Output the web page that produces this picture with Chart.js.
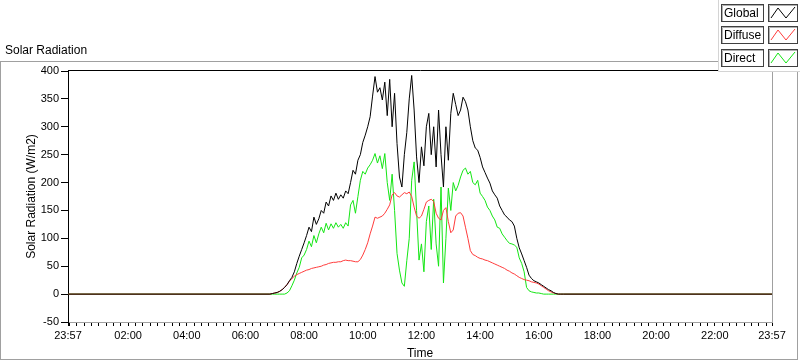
<!DOCTYPE html>
<html>
<head>
<meta charset="utf-8">
<script src="https://cdn.jsdelivr.net/npm/chart.js@4.4.1/dist/chart.umd.min.js"></script>
<style>
html, body { margin: 0; padding: 0; background: #fff; }
canvas { display: block; }
</style>
</head>
<body>
<canvas id="graficoSolar" width="800" height="361"></canvas>
<script>
// sample times (first and last 23:57 = start/end of the record)
const times = [
    '23:57',
    '06:50','06:55','07:00','07:05','07:10','07:15','07:20','07:25','07:30','07:35',
    '07:40','07:45','07:50','07:55','08:00','08:05','08:10','08:15','08:20','08:25',
    '08:30','08:35','08:40','08:45','08:50','08:55','09:00','09:05','09:10','09:15',
    '09:20','09:25','09:30','09:35','09:40','09:45','09:50','09:55','10:00','10:05',
    '10:10','10:15','10:20','10:25','10:30','10:35','10:40','10:45','10:50','10:55',
    '11:00','11:05','11:10','11:15','11:20','11:25','11:30','11:35','11:40','11:45',
    '11:50','11:55','12:00','12:05','12:10','12:15','12:20','12:25','12:30','12:35',
    '12:40','12:45','12:50','12:55','13:00','13:05','13:10','13:15','13:20','13:25',
    '13:30','13:35','13:40','13:45','13:50','13:55','14:00','14:05','14:10','14:15',
    '14:20','14:25','14:30','14:35','14:40','14:45','14:50','14:55','15:00','15:05',
    '15:10','15:15','15:20','15:25','15:30','15:35','15:40','15:45','15:50','15:55',
    '16:00','16:05','16:10','16:15','16:20','16:25','16:30','16:35','16:40','16:45',
    '16:50',
    '23:57'
];

const globalRad = [
    0,
    0, 1, 2, 3, 5, 8, 12, 17, 24, 30,
    40, 55, 68, 80, 92, 105, 120, 112, 138, 125,
    135, 150, 145, 165, 158, 176, 168, 181, 170, 178,
    172, 185, 180, 200, 222, 215, 240, 250, 272, 285,
    300, 318, 355, 390, 362, 370, 348, 380, 320, 385,
    300, 360, 270, 210, 192, 250, 290, 350, 392, 330,
    246, 200, 264, 230, 300, 324, 250, 300, 228, 330,
    250, 192, 300, 240, 324, 360, 340, 320, 330, 353,
    345, 330, 300, 275, 262, 258, 245, 228, 218, 208,
    199, 185, 178, 172, 158, 150, 142, 138, 133, 130,
    122, 100, 83, 72, 60, 48, 34, 28, 24, 22,
    20, 17, 14, 11, 8, 6, 3, 1, 0, 0,
    0,
    0
];

const diffuseRad = [
    0,
    0, 1, 2, 3, 5, 8, 12, 17, 23, 28,
    32, 35, 37, 39, 41, 43, 44, 46, 47, 48,
    49, 50, 52, 53, 55, 56, 57, 57, 58, 58,
    60, 61, 60, 60, 59, 58, 58, 62, 70, 80,
    92, 108, 122, 138, 136, 138, 140, 145, 152, 160,
    178, 182, 176, 174, 178, 182, 180, 183, 175, 156,
    140, 136, 140, 152, 165, 168, 170, 166, 145, 136,
    133, 150, 155, 130, 110, 115, 140, 145, 146, 140,
    120, 100, 78, 71, 69, 66, 64, 63, 61, 60,
    58, 56, 54, 52, 50, 48, 46, 43, 41, 38,
    36, 33, 30, 28, 26, 25, 24, 22, 21, 20,
    18, 15, 12, 9, 6, 4, 2, 1, 0, 0,
    0,
    0
];

const directRad = [
    0,
    0, 0, 0, 0, 0, 0, 0, 2, 6, 15,
    25, 38, 48, 65, 70, 80, 95, 85, 105, 92,
    108, 120, 110, 127, 115, 126, 118, 128, 120, 125,
    118, 128, 122, 160, 168, 145, 175, 204, 220, 215,
    226, 232, 240, 252, 235, 248, 225, 252, 200, 168,
    215, 150, 73, 43, 20, 14, 60, 100, 204, 237,
    150, 61, 90, 40, 130, 158, 80, 170, 90, 50,
    192, 20, 100, 190, 150, 200, 185, 195, 210, 222,
    226, 215, 220, 200, 196, 204, 181, 175, 168, 156,
    150, 140, 133, 120, 118, 108, 102, 96, 91, 90,
    88, 84, 65, 55, 40, 12, 6, 4, 3, 2,
    2, 1, 0, 0, 0, 0, 0, 0, 0, 0,
    0,
    0
];

const seriesNames = ['Global', 'Diffuse', 'Direct'];
const seriesColors = ['#000000', '#ff3c3c', '#14e614'];

const FONT = '"Liberation Sans", Arial, sans-serif';
Chart.defaults.font.family = FONT;
Chart.defaults.font.size = 11;
Chart.defaults.color = '#000';

// minutes from midnight; the first 23:57 belongs to the previous day
function toMin(s, i) {
    const p = s.split(':');
    const m = parseInt(p[0], 10) * 60 + parseInt(p[1], 10);
    return i === 0 ? m - 1440 : m;
}
const xs = times.map(toMin);

function pontos(arr) {
    return arr.map((v, i) => ({ x: xs[i], y: v }));
}

function pad2(n) { return (n < 10 ? '0' : '') + n; }

const moldura = {
    id: 'moldura',
    beforeDraw(chart) {
        const c = chart.ctx;
        c.save();
        c.fillStyle = '#fff';
        c.fillRect(0, 0, chart.width, chart.height);
        c.strokeStyle = '#a0a0a0';
        c.lineWidth = 1;
        c.strokeRect(0.5, 61.5, 797, 298);
        c.fillStyle = '#000';
        c.font = '12px ' + FONT;
        c.textBaseline = 'alphabetic';
        c.fillText('Solar Radiation', 5, 54);
        c.restore();
    },
    afterDraw(chart) {
        const a = chart.chartArea;
        const c = chart.ctx;
        c.save();
        c.lineWidth = 1;
        c.strokeStyle = '#000';
        c.beginPath();
        c.moveTo(a.left, a.top - 0.5);
        c.lineTo(a.right + 1, a.top - 0.5);
        c.stroke();
        c.strokeStyle = '#a0a0a0';
        c.beginPath();
        c.moveTo(a.right + 0.5, a.top);
        c.lineTo(a.right + 0.5, a.bottom);
        c.stroke();

        // legenda
        c.fillStyle = '#fff';
        c.fillRect(718, 0, 82, 72);
        c.strokeStyle = '#d4d4d4';
        c.beginPath();
        c.moveTo(718.5, 0);
        c.lineTo(718.5, 71.5);
        c.lineTo(800, 71.5);
        c.stroke();
        const rows = [4, 26, 49];
        c.font = '12px ' + FONT;
        c.textBaseline = 'middle';
        for (let i = 0; i < seriesNames.length; i++) {
            const y = rows[i];
            c.strokeStyle = '#404040';
            c.strokeRect(721.5, y + 0.5, 42, 17);
            c.strokeRect(768.5, y + 0.5, 29, 17);
            c.strokeStyle = '#b0b0b0';
            c.beginPath();
            c.moveTo(722.5, y + 17); c.lineTo(722.5, y + 1.5); c.lineTo(763, y + 1.5);
            c.moveTo(769.5, y + 17); c.lineTo(769.5, y + 1.5); c.lineTo(797, y + 1.5);
            c.stroke();
            c.fillStyle = '#000';
            c.fillText(seriesNames[i], 724, y + 9.5);
            c.strokeStyle = seriesColors[i];
            c.beginPath();
            c.moveTo(771, y + 14);
            c.lineTo(778, y + 4);
            c.lineTo(786, y + 14);
            c.lineTo(795, y + 3);
            c.stroke();
        }
        c.restore();
    }
};

const ctx = document.getElementById('graficoSolar').getContext('2d');
new Chart(ctx, {
    type: 'line',
    data: {
        datasets: [
            { label: seriesNames[0], data: pontos(globalRad), borderColor: seriesColors[0] },
            { label: seriesNames[1], data: pontos(diffuseRad), borderColor: seriesColors[1] },
            { label: seriesNames[2], data: pontos(directRad), borderColor: seriesColors[2] }
        ]
    },
    options: {
        responsive: false,
        animation: false,
        devicePixelRatio: 1,
        elements: {
            line: { borderWidth: 1, tension: 0, fill: false },
            point: { radius: 0, hoverRadius: 0 }
        },
        layout: { padding: { top: 71, right: 28, left: 0, bottom: 0 } },
        plugins: {
            legend: { display: false },
            tooltip: { enabled: false },
            title: { display: false }
        },
        scales: {
            x: {
                type: 'linear',
                min: -3,
                max: 1437,
                afterBuildTicks: function(scale) {
                    const t = [{ value: -3 }];
                    for (let m = 0; m <= 1425; m += 15) t.push({ value: m });
                    t.push({ value: 1437 });
                    scale.ticks = t;
                },
                afterFit: function(scale) { scale.height = 39; },
                ticks: {
                    autoSkip: false,
                    maxRotation: 0,
                    padding: 3,
                    callback: function(v) {
                        if (v === -3 || v === 1437) return '23:57';
                        if (v > 0 && v % 120 === 0) return pad2(v / 60) + ':00';
                        return '';
                    }
                },
                grid: { drawOnChartArea: false, tickLength: 4, color: '#000' },
                border: { color: '#a0a0a0' },
                title: { display: true, text: 'Time', padding: { top: 0, bottom: 0 }, font: { size: 12 } }
            },
            y: {
                min: -50,
                max: 400,
                afterFit: function(scale) { scale.width = 68; },
                ticks: { stepSize: 50, padding: 2 },
                grid: { drawOnChartArea: false, tickLength: 7, color: '#000' },
                border: { color: '#000' },
                title: { display: true, text: 'Solar Radiation (W/m2)', padding: { top: 24, bottom: 0 }, font: { size: 12 } }
            }
        }
    },
    plugins: [moldura]
});
</script>
</body>
</html>
